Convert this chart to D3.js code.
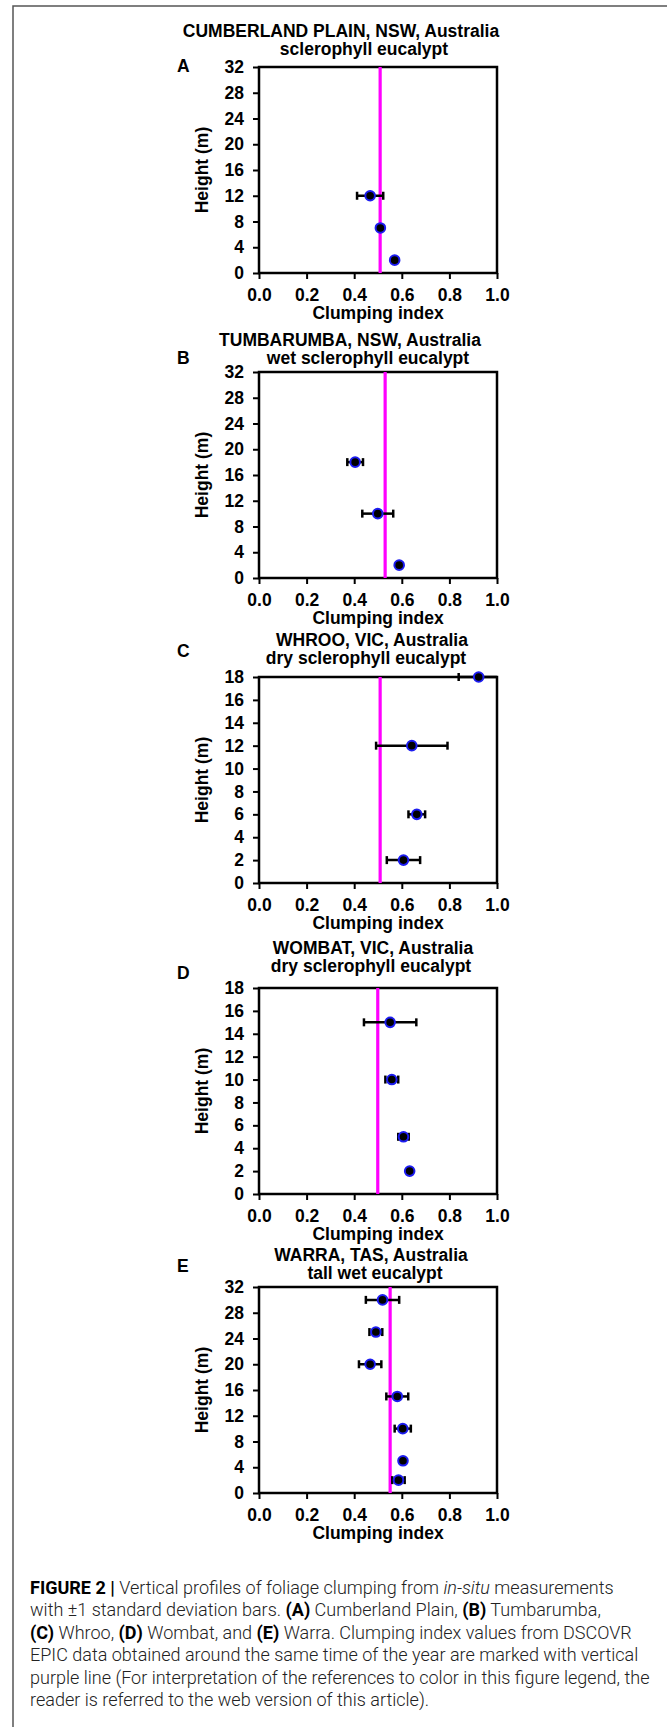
<!DOCTYPE html>
<html>
<head>
<meta charset="utf-8">
<script src="https://cdn.jsdelivr.net/npm/d3@7"></script>
<style>
  html, body { margin: 0; padding: 0; background: #fff; }
</style>
</head>
<body>
<div id="chart"></div>
<script>
// site names, one panel each
const letters = ["A", "B", "C", "D", "E"];
const titles1 = ["CUMBERLAND PLAIN, NSW, Australia", "TUMBARUMBA, NSW, Australia", "WHROO, VIC, Australia", "WOMBAT, VIC, Australia", "WARRA, TAS, Australia"];
const titles2 = ["sclerophyll eucalypt", "wet sclerophyll eucalypt", "dry sclerophyll eucalypt", "dry sclerophyll eucalypt", "tall wet eucalypt"];

// in-situ clumping profiles (height m, clumping index, sd)
const heightsA = [12, 7, 2];
const clumpA = [0.467, 0.51, 0.57];
const sdA = [0.055, 0, 0];

const heightsB = [18, 10, 2];
const clumpB = [0.404, 0.499, 0.589];
const sdB = [0.033, 0.065, 0];

const heightsC = [18, 12, 6, 2];
const clumpC = [0.923, 0.642, 0.663, 0.607];
const sdC = [0.084, 0.15, 0.035, 0.07];

const heightsD = [15, 10, 5, 2];
const clumpD = [0.551, 0.558, 0.607, 0.633];
const sdD = [0.11, 0.027, 0.022, 0];

const heightsE = [30, 25, 20, 15, 10, 5, 2];
const clumpE = [0.519, 0.491, 0.467, 0.581, 0.604, 0.605, 0.586];
const sdE = [0.07, 0.027, 0.047, 0.046, 0.034, 0, 0.026];

// DSCOVR EPIC clumping index (the purple line)
const epic = [0.509, 0.53, 0.509, 0.499, 0.551];

// axis ranges
const yMax = [32, 32, 18, 18, 32];
const yStep = [4, 4, 2, 2, 4];
const xTicks = [0, 0.2, 0.4, 0.6, 0.8, 1.0];

const profiles = [
    [heightsA, clumpA, sdA],
    [heightsB, clumpB, sdB],
    [heightsC, clumpC, sdC],
    [heightsD, clumpD, sdD],
    [heightsE, clumpE, sdE]
];

// layout (pixel positions)
const W = 667, H = 1727;
const plotX0 = 259, plotX1 = 497, plotH = 206;
const panelTop = [67, 372, 677, 988, 1287];
const letterDy = [5, -8, -20, -9, -15];
const title1Dy = [-30, -26, -31, -34, -26];
const title1X = [341, 350, 372, 373, 371];
const title2X = [364, 368, 366, 371, 375];

const boldFont = "'Liberation Sans', Arial, sans-serif";

const svg = d3.select("#chart").append("svg")
    .attr("width", W)
    .attr("height", H)
    .attr("viewBox", [0, 0, W, H]);

// figure frame (top + left only)
svg.append("path")
    .attr("d", `M13,${H} L13,6 L${W},6`)
    .attr("fill", "none")
    .attr("stroke", "#555")
    .attr("stroke-width", 1.5);

const x = d3.scaleLinear().domain([0, 1]).range([plotX0, plotX1]);

profiles.forEach((p, i) => {
    const top = panelTop[i];
    const bottom = top + plotH;
    const y = d3.scaleLinear().domain([0, yMax[i]]).range([bottom, top]);
    const g = svg.append("g");

    // titles
    g.append("text")
        .attr("x", title1X[i]).attr("y", top + title1Dy[i])
        .attr("text-anchor", "middle")
        .attr("font-family", boldFont).attr("font-weight", "bold").attr("font-size", 17.5)
        .text(titles1[i]);
    g.append("text")
        .attr("x", title2X[i]).attr("y", top + title1Dy[i] + 18)
        .attr("text-anchor", "middle")
        .attr("font-family", boldFont).attr("font-weight", "bold").attr("font-size", 17.5)
        .text(titles2[i]);
    g.append("text")
        .attr("x", 177).attr("y", top + letterDy[i])
        .attr("font-family", boldFont).attr("font-weight", "bold").attr("font-size", 17.5)
        .text(letters[i]);

    // axes
    const yAxis = d3.axisLeft(y)
        .tickValues(d3.range(0, yMax[i] + 0.001, yStep[i]))
        .tickFormat(d3.format("d"))
        .tickSize(6).tickPadding(9);
    const xAxis = d3.axisBottom(x)
        .tickValues(xTicks)
        .tickFormat(d3.format(".1f"))
        .tickSize(6).tickPadding(10);

    [g.append("g").attr("transform", `translate(${plotX0},0)`).call(yAxis),
     g.append("g").attr("transform", `translate(0,${bottom})`).call(xAxis)]
        .forEach(a => {
            a.select(".domain").remove();
            a.selectAll(".tick line").attr("stroke", "#000").attr("stroke-width", 2);
            a.selectAll(".tick text")
                .attr("fill", "#000")
                .attr("font-family", boldFont).attr("font-weight", "bold").attr("font-size", 17.5);
        });

    g.append("text")
        .attr("x", (plotX0 + plotX1) / 2).attr("y", bottom + 46)
        .attr("text-anchor", "middle")
        .attr("font-family", boldFont).attr("font-weight", "bold").attr("font-size", 17.5)
        .text("Clumping index");
    g.append("text")
        .attr("transform", `translate(208,${(top + bottom) / 2}) rotate(-90)`)
        .attr("text-anchor", "middle")
        .attr("font-family", boldFont).attr("font-weight", "bold").attr("font-size", 17.5)
        .text("Height (m)");

    // plot box
    g.append("rect")
        .attr("x", plotX0).attr("y", top)
        .attr("width", plotX1 - plotX0).attr("height", plotH)
        .attr("fill", "none").attr("stroke", "#000").attr("stroke-width", 2.5);

    // EPIC line
    g.append("line")
        .attr("x1", x(epic[i])).attr("x2", x(epic[i]))
        .attr("y1", top).attr("y2", bottom)
        .attr("stroke", "#ff00ff").attr("stroke-width", 3.2);

    const pts = p[0].map((h, j) => ({h: h, c: p[1][j], sd: p[2][j]}));

    // error bars, cut at the plot edge
    const eb = g.selectAll(".eb").data(pts.filter(d => d.sd > 0)).join("g");
    eb.append("line")
        .attr("x1", d => x(Math.max(0, d.c - d.sd)))
        .attr("x2", d => x(Math.min(1, d.c + d.sd)))
        .attr("y1", d => y(d.h)).attr("y2", d => y(d.h))
        .attr("stroke", "#000").attr("stroke-width", 2.5);
    eb.selectAll(".cap")
        .data(d => [d.c - d.sd, d.c + d.sd].filter(v => v >= 0 && v <= 1).map(v => ({v: v, h: d.h})))
        .join("line")
        .attr("x1", d => x(d.v)).attr("x2", d => x(d.v))
        .attr("y1", d => y(d.h) - 4).attr("y2", d => y(d.h) + 4)
        .attr("stroke", "#000").attr("stroke-width", 2.5);

    g.selectAll(".pt").data(pts).join("circle")
        .attr("cx", d => x(d.c)).attr("cy", d => y(d.h))
        .attr("r", 4.8)
        .attr("fill", "#000")
        .attr("stroke", "#1c1cf0").attr("stroke-width", 2);
});

// caption
const capFont = "Roboto, 'Liberation Sans', sans-serif";
const caption = [
    [["FIGURE 2 |", "b"], [" Vertical profiles of foliage clumping from ", ""], ["in-situ", "i"], [" measurements", ""]],
    [["with \u00b11 standard deviation bars. ", ""], ["(A)", "b"], [" Cumberland Plain, ", ""], ["(B)", "b"], [" Tumbarumba,", ""]],
    [["(C)", "b"], [" Whroo, ", ""], ["(D)", "b"], [" Wombat, and ", ""], ["(E)", "b"], [" Warra. Clumping index values from DSCOVR", ""]],
    [["EPIC data obtained around the same time of the year are marked with vertical", ""]],
    [["purple line (For interpretation of the references to color in this figure legend, the", ""]],
    [["reader is referred to the web version of this article).", ""]]
];

const capLines = caption.map((line, k) => {
    const t = svg.append("text")
        .attr("x", 30).attr("y", 1594 + k * 22.4)
        .attr("font-family", capFont).attr("font-size", 16)
        .attr("font-weight", 300).attr("fill", "#222");
    line.forEach(([s, st]) => {
        t.append("tspan")
            .attr("font-weight", st == "b" ? "bold" : 300)
            .attr("font-style", st == "i" ? "italic" : null)
            .attr("fill", st == "b" ? "#000" : null)
            .text(s);
    });
    return t;
});

// the longest caption lines run 30 -> ~652 in the figure; size the caption to it
const widest = d3.max(capLines, t => t.node().getComputedTextLength());
const fit = 620 / widest;
capLines.forEach(t => t.attr("font-size", 16 * fit));
</script>
</body>
</html>
